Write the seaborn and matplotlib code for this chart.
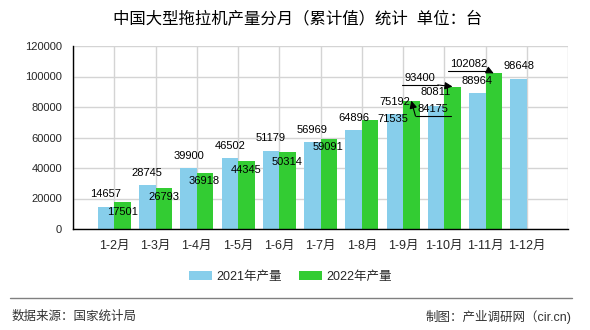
import matplotlib
matplotlib.use("Agg")
import matplotlib.pyplot as plt
import seaborn as sns
import pandas as pd
from matplotlib.lines import Line2D
from matplotlib.transforms import IdentityTransform

# ---------------- data ----------------
months = ["1-2月", "1-3月", "1-4月", "1-5月", "1-6月", "1-7月",
          "1-8月", "1-9月", "1-10月", "1-11月", "1-12月"]
prod_2021 = [14657, 28745, 39900, 46502, 51179, 56969, 64896, 75192, 80811, 88964, 98648]
prod_2022 = [17501, 26793, 36918, 44345, 50314, 59091, 71535, 84175, 93400, 102082]
series_names = ["2021年产量", "2022年产量"]
title = "中国大型拖拉机产量分月（累计值）统计  单位：台"
source_text = "数据来源：国家统计局"
credit_text = "制图：产业调研网（cir.cn)"
y_ticks = [0, 20000, 40000, 60000, 80000, 100000, 120000]

# ---------------- styling / label offsets (pixels) ----------------
c2021 = "#87CEEB"
c2022 = "#33CC33"
blue_offsets = [(0, 12.5)] * 7 + [(0, 12), (0, 13.5), (0, 12), (0, 12.5)]
green_offsets = [(0, -9.5), (0, -9), (-1, -8.5), (0, -8.6), (0, -9.7), (-1, -8),
                 (23, 1), (22, -8.5), (-32.5, 8.6), (-25.5, 9.3)]
green_leader = [False] * 7 + [True] * 3

sns.set_style("white")
plt.rcParams["font.family"] = ["Liberation Sans", "Noto Sans CJK SC"]

rows = []
for m, v in zip(months, prod_2021):
    rows.append({"month": m, "series": series_names[0], "value": v})
for m, v in zip(months, prod_2022):
    rows.append({"month": m, "series": series_names[1], "value": v})
df = pd.DataFrame(rows)

fig = plt.figure(figsize=(5.9, 3.3), dpi=100)
W, H = 590, 330
ax = fig.add_axes([73 / W, 1 - 229 / H, 495 / W, 183 / H])

sns.barplot(data=df, x="month", y="value", hue="series", order=months,
            hue_order=series_names, palette=[c2021, c2022], saturation=1,
            width=0.8, dodge=True, errorbar=None, ax=ax, linewidth=0)

ax.set_xlim(-1, len(months))
ax.set_ylim(0, 120000)
ax.set_yticks(y_ticks)
ax.set_yticklabels([str(t) for t in y_ticks], fontsize=8)
ax.set_xticks(range(-1, len(months) + 1))
ax.set_xticklabels([""] + months + [""], fontsize=9)
ax.set_xlabel("")
ax.set_ylabel("")
ax.grid(True, color="#d4d4d4", lw=1)
ax.set_axisbelow(True)
for s in ["top", "right"]:
    ax.spines[s].set_visible(False)
for s in ["left", "bottom"]:
    ax.spines[s].set_color("black")
    ax.spines[s].set_linewidth(1)
ax.tick_params(axis="both", length=5, width=1, color="black", direction="out", pad=3)

handles, labels = ax.get_legend_handles_labels()
if ax.get_legend() is not None:
    ax.get_legend().remove()

# ---------------- value labels ----------------
lab_kw = dict(textcoords="offset pixels", ha="center", va="center", fontsize=8, color="black")
cont_2021, cont_2022 = ax.containers[0], ax.containers[1]
for bar, v, (dx, dy) in zip(cont_2021, prod_2021, blue_offsets):
    xy = (bar.get_x() + bar.get_width() / 2, bar.get_height())
    ax.annotate(str(v), xy=xy, xytext=(dx, dy), **lab_kw)

for bar, v, (dx, dy), lead in zip(cont_2022, prod_2022, green_offsets, green_leader):
    xy = (bar.get_x() + bar.get_width() / 2, bar.get_height())
    ax.annotate(str(v), xy=xy, xytext=(dx, dy), **lab_kw)
    if lead:
        px, py = ax.transData.transform(xy)
        tx, ty = px + dx, py + dy
        hw = len(str(v)) * 5.9 / 2 + 3
        uy = ty - 7
        fig.add_artist(Line2D([tx - hw, tx + hw], [uy, uy], color="black", lw=0.8,
                              transform=IdentityTransform()))
        ex = tx - hw if dx > 0 else tx + hw
        ax.annotate("", xy=(px, py), xycoords="figure pixels",
                    xytext=(ex, uy), textcoords="figure pixels",
                    arrowprops=dict(arrowstyle="-|>,head_length=0.45,head_width=0.22",
                                    color="black", lw=0.8, shrinkA=0, shrinkB=0))

# ---------------- title, legend, footer ----------------
fig.text(298 / W, 1 - 18 / H, title, ha="center", va="center", fontsize=11.8,
         color="black", fontweight="medium")

fig.legend(handles, labels, loc="center", bbox_to_anchor=(290.5 / W, 1 - 277 / H),
           ncol=2, frameon=False, handlelength=1.83, handleheight=0.75,
           handletextpad=0.35, columnspacing=1.35, fontsize=9)

fig.add_artist(Line2D([10 / W, 572 / W], [1 - 298 / H] * 2, color="#808080", lw=1,
                      transform=fig.transFigure))
fig.text(12 / W, 1 - 317 / H, source_text, ha="left", va="center", fontsize=9, color="#333333")
fig.text(571 / W, 1 - 317 / H, credit_text, ha="right", va="center", fontsize=9, color="#333333")

fig.savefig("out.png", dpi=100)
